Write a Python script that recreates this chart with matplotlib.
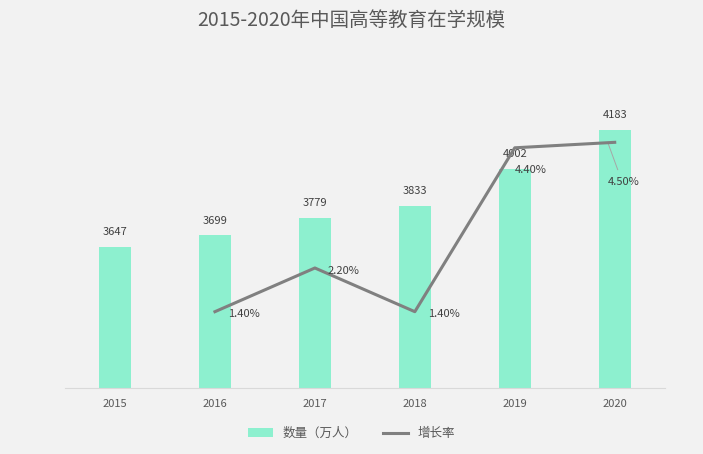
import matplotlib
matplotlib.use("Agg")
import matplotlib.pyplot as plt

plt.rcParams['font.family'] = ['Noto Sans CJK SC', 'DejaVu Sans']

years = ['2015', '2016', '2017', '2018', '2019', '2020']
counts = [3647, 3699, 3779, 3833, 4002, 4183]
growth_years = ['2016', '2017', '2018', '2019', '2020']
growth = [1.4, 2.2, 1.4, 4.4, 4.5]

bg = '#f2f2f2'
fig = plt.figure(figsize=(7.03, 4.54), dpi=100, facecolor=bg)
ax = fig.add_axes([0.0925, 0.145, 0.853, 0.722], facecolor=bg)
x = list(range(len(years)))
ax.bar(x, counts, width=0.32, color='#8df0cf', label='数量（万人）', zorder=2)
for xi, v in zip(x, counts):
    ax.text(xi, v + 45, str(v), ha='center', va='bottom', fontsize=8, color='#404040')
ax.set_ylim(3000, 4500)
ax.set_xlim(-0.5, 5.5)
ax.set_xticks(x)
ax.set_xticklabels(years, fontsize=8, color='#595959')
ax.set_yticks([])
for s in ['top', 'right', 'left']:
    ax.spines[s].set_visible(False)
ax.spines['bottom'].set_color('#d9d9d9')
ax.tick_params(axis='x', length=0, pad=8)

ax2 = ax.twinx()
gx = [years.index(y) for y in growth_years]
ax2.plot(gx, growth, color='#808080', lw=2.2, label='增长率', zorder=3)
ax2.set_ylim(0, 6)
ax2.set_yticks([])
for s in ax2.spines.values():
    s.set_visible(False)
offs = [(0.13, -0.05), (0.13, -0.05), (0.13, -0.05), (0.0, -0.4), (-0.07, -0.72)]
for xi, v, (dx, dy) in zip(gx, growth, offs):
    ax2.text(xi + dx, v + dy, f'{v:.2f}%', ha='left', va='center', fontsize=8, color='#404040')
ax2.plot([4.93, 5.03], [4.5, 4.0], color='#a6a6a6', lw=0.7)

h1, l1 = ax.get_legend_handles_labels()
h2, l2 = ax2.get_legend_handles_labels()
fig.legend(h1 + h2, l1 + l2, loc='center', bbox_to_anchor=(0.5, 0.045), ncol=2,
           frameon=False, fontsize=9, labelcolor='#595959')
fig.text(0.5, 0.955, '2015-2020年中国高等教育在学规模', ha='center', va='center',
         fontsize=14, color='#595959')
fig.savefig('out.png', dpi=100, facecolor=bg)
